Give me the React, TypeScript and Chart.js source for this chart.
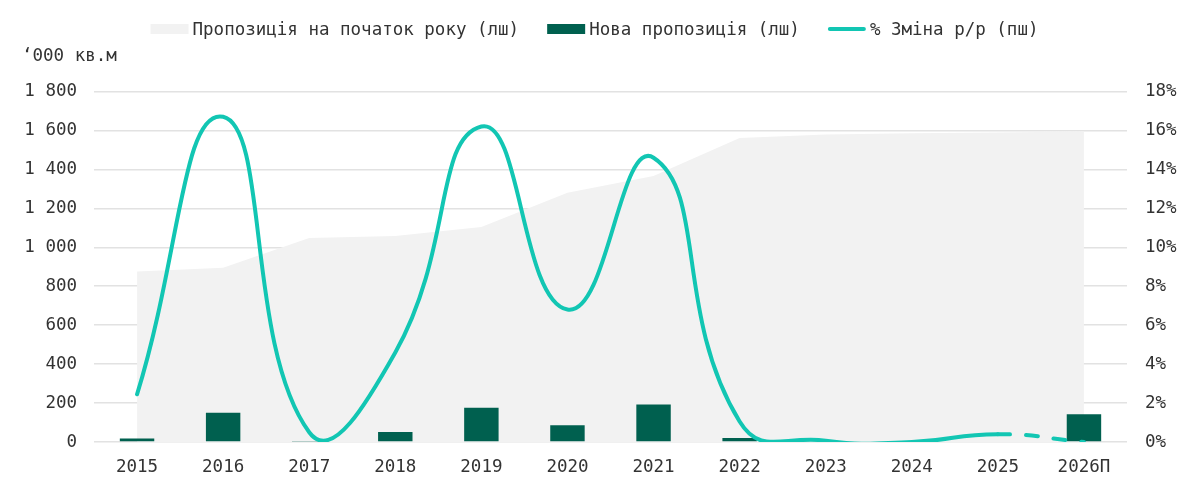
import React, { useEffect, useRef } from 'react';
import { Chart, registerables, Plugin } from 'chart.js';

Chart.register(...registerables);

const FONT = '"DejaVu Sans Mono", "Liberation Mono", monospace';
const TEXT = '#333333';

const years = ['2015', '2016', '2017', '2018', '2019', '2020', '2021', '2022', '2023', '2024', '2025', '2026П'];
// supply at start of year, '000 sq.m
const startSupply = [875, 895, 1048, 1058, 1104, 1280, 1366, 1561, 1579, 1585, 1590, 1595];
// new supply, '000 sq.m
const newSupply = [18, 150, 5, 51, 176, 86, 193, 20, 0, 0, 4, 142];
// % change y/y
const changePct = [2.45, 16.7, 0.5, 4.6, 16.2, 6.8, 14.6, 1.05, 0.07, 0.0, 0.4, 0.0];

const leftTicks = { min: 0, max: 1800, step: 200 };
const rightTicks = { min: 0, max: 18, step: 2 };

const LABEL_AREA = 'Пропозиція на початок року (лш)';
const LABEL_BAR = 'Нова пропозиція (лш)';
const LABEL_LINE = '% Зміна р/р (пш)';

const COLOR_AREA = '#F2F2F2';
const COLOR_BAR = '#00604F';
const COLOR_LINE = '#12C6B3';

const fmtThousands = (v: number) => String(v).replace(/\B(?=(\d{3})+(?!\d))/g, ' ');

// simple custom legend so the marker/text spacing matches the original
const legendPlugin: Plugin = {
  id: 'customLegend',
  afterDraw(chart) {
    const ctx = chart.ctx;
    const fontSize = 17.5;
    const markerW = 38;
    const gap = 4;
    const itemGap = 28;
    const y = 21;
    ctx.save();
    ctx.font = `${fontSize}px ${FONT}`;
    ctx.textBaseline = 'middle';
    ctx.textAlign = 'left';
    const items = chart.data.datasets.map((ds: any) => ({
      text: ds.label as string,
      kind: ds.legendKind as string,
      color: ds.legendColor as string,
    }));
    items.sort((a, b) => ['area', 'bar', 'line'].indexOf(a.kind) - ['area', 'bar', 'line'].indexOf(b.kind));
    const widths = items.map(it => markerW + gap + ctx.measureText(it.text).width);
    const total = widths.reduce((a, b) => a + b, 0) + itemGap * (items.length - 1);
    let x = chart.width / 2 - total / 2;
    items.forEach((it, i) => {
      if (it.kind === 'line') {
        ctx.strokeStyle = it.color;
        ctx.lineWidth = 4;
        ctx.lineCap = 'round';
        ctx.beginPath();
        ctx.moveTo(x + 2, y);
        ctx.lineTo(x + markerW - 2, y);
        ctx.stroke();
      } else {
        ctx.fillStyle = it.color;
        ctx.fillRect(x, y - 5, markerW, 10);
      }
      ctx.fillStyle = TEXT;
      ctx.fillText(it.text, x + markerW + gap, y + 1);
      x += widths[i] + itemGap;
    });
    ctx.restore();
  },
};

export default function App() {
  const canvasRef = useRef<HTMLCanvasElement | null>(null);

  useEffect(() => {
    if (!canvasRef.current) return;
    const last = years.length - 1;
    const chart = new Chart(canvasRef.current, {
      type: 'bar',
      data: {
        labels: years,
        datasets: [
          {
            type: 'line',
            label: LABEL_LINE,
            data: changePct,
            yAxisID: 'y1',
            borderColor: COLOR_LINE,
            backgroundColor: COLOR_LINE,
            borderWidth: 4,
            borderCapStyle: 'round',
            pointRadius: 0,
            tension: 0.5,
            capBezierPoints: false,
            fill: false,
            order: 0,
            segment: {
              borderDash: (c: any) => (c.p1DataIndex === last ? [12, 16] : undefined),
            },
            legendKind: 'line',
            legendColor: COLOR_LINE,
          } as any,
          {
            type: 'bar',
            label: LABEL_BAR,
            data: newSupply,
            yAxisID: 'y',
            backgroundColor: COLOR_BAR,
            categoryPercentage: 0.8,
            barPercentage: 0.5,
            order: 1,
            legendKind: 'bar',
            legendColor: COLOR_BAR,
          } as any,
          {
            type: 'line',
            label: LABEL_AREA,
            data: startSupply,
            yAxisID: 'y',
            borderWidth: 0,
            borderColor: COLOR_AREA,
            backgroundColor: COLOR_AREA,
            pointRadius: 0,
            tension: 0,
            fill: 'origin',
            order: 2,
            legendKind: 'area',
            legendColor: COLOR_AREA,
          } as any,
        ],
      },
      options: {
        responsive: true,
        maintainAspectRatio: false,
        animation: false,
        layout: { padding: { top: 38, left: 14, right: 0, bottom: 0 } },
        plugins: {
          legend: { display: false },
          tooltip: { enabled: false },
          title: {
            display: true,
            text: '‘000 кв.м',
            align: 'start',
            color: TEXT,
            font: { family: FONT, size: 17.5, weight: 'normal' },
            padding: { top: 0, bottom: 24.5 },
          },
        },
        scales: {
          x: {
            grid: { display: false },
            border: { display: false },
            ticks: { color: TEXT, font: { family: FONT, size: 17.5 }, padding: 7 },
            afterFit: (s: any) => { s.height = 35; },
          },
          y: {
            position: 'left',
            min: leftTicks.min,
            max: leftTicks.max,
            border: { display: false },
            grid: { color: '#E2E2E2', lineWidth: 1.5, drawTicks: false },
            ticks: {
              stepSize: leftTicks.step,
              color: TEXT,
              font: { family: FONT, size: 17.5 },
              padding: 17,
              callback: (v: any) => fmtThousands(Number(v)),
            },
            afterFit: (s: any) => { s.width = 72; },
          },
          y1: {
            position: 'right',
            min: rightTicks.min,
            max: rightTicks.max,
            border: { display: false },
            grid: { display: false, drawTicks: false },
            ticks: {
              stepSize: rightTicks.step,
              color: TEXT,
              font: { family: FONT, size: 17.5 },
              padding: 18,
              callback: (v: any) => `${v}%`,
            },
            afterFit: (s: any) => { s.width = 54; },
          },
        },
      },
      plugins: [legendPlugin],
    });
    return () => chart.destroy();
  }, []);

  return (
    <div style={{ position: 'relative', width: '100%', height: 469, background: '#fff' }}>
      <canvas ref={canvasRef} />
    </div>
  );
}
